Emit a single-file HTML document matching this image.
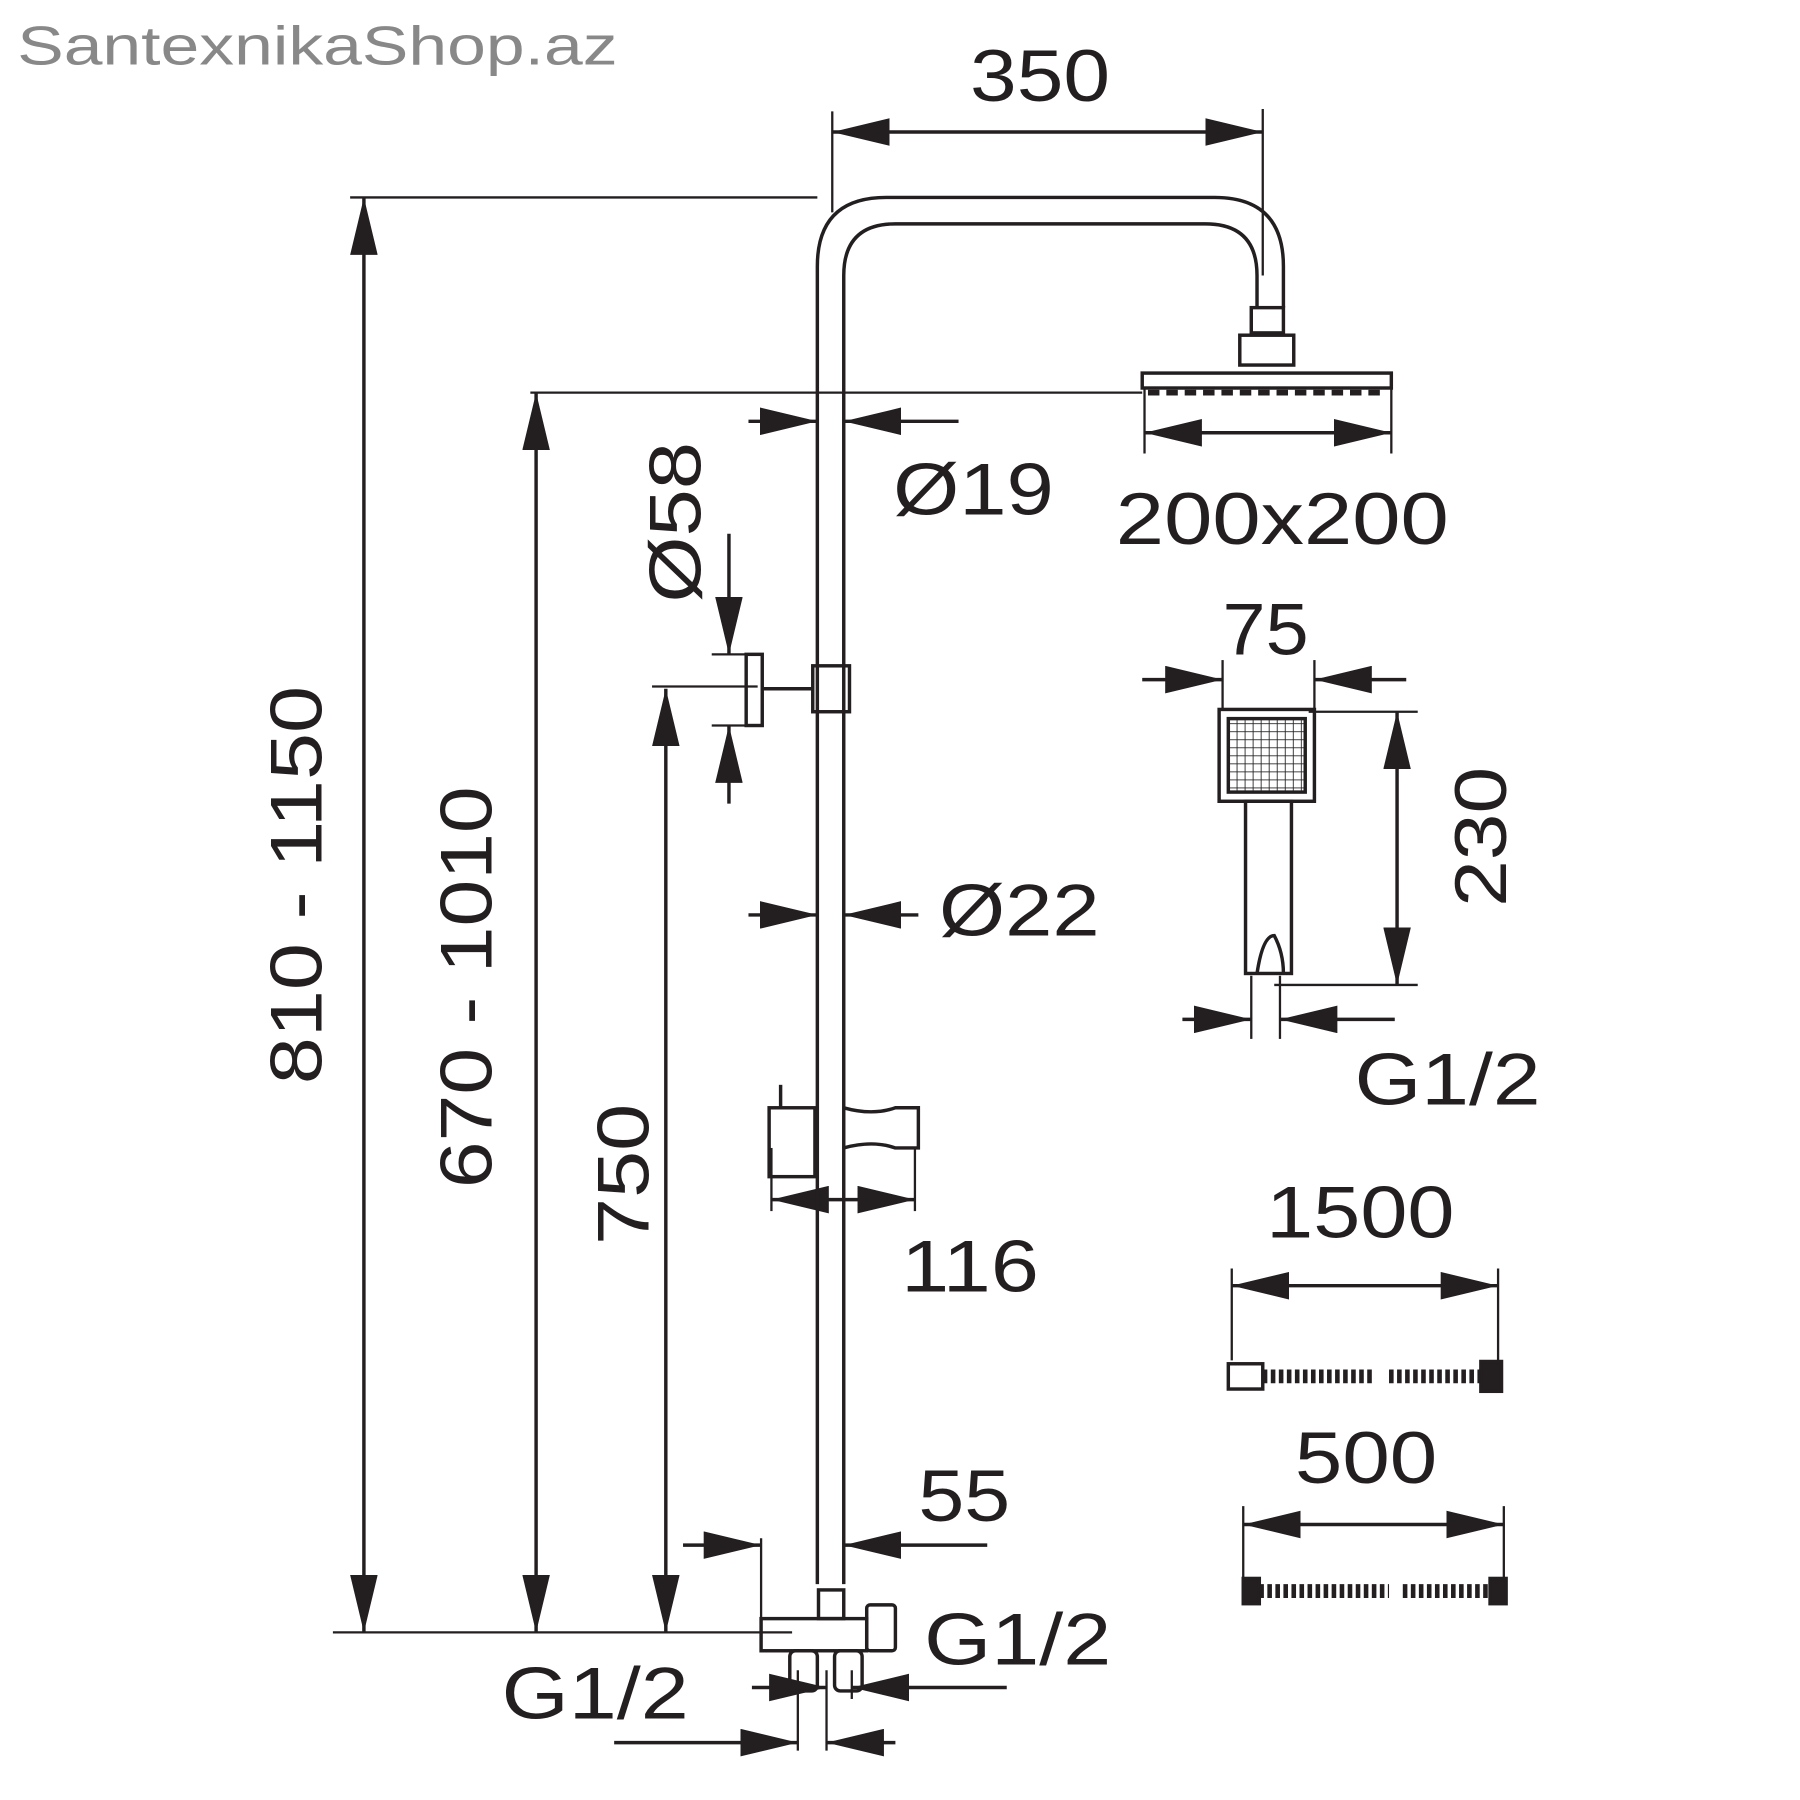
<!DOCTYPE html>
<html><head><meta charset="utf-8"><style>html,body{margin:0;padding:0;background:#fff}svg{display:block}</style></head>
<body>
<svg width="1800" height="1800" viewBox="0 0 1568 1568" xmlns="http://www.w3.org/2000/svg" font-family="Liberation Sans, sans-serif" fill="none" stroke="#231f20">
<defs>
<marker id="a" viewBox="0 0 50 24" refX="50" refY="12" markerWidth="50" markerHeight="24" markerUnits="userSpaceOnUse" orient="auto-start-reverse"><path d="M0 0L50 12L0 24Z" fill="#231f20" stroke="none"/></marker>
<pattern id="g" width="7" height="7" patternUnits="userSpaceOnUse"><path d="M0 0H7V7" stroke="#231f20" stroke-width="1.5"/></pattern>
</defs>
<text x="15" y="56" font-size="48" fill="#888" stroke="none" textLength="523" lengthAdjust="spacingAndGlyphs">SantexnikaShop.az</text>
<g fill="#231f20" stroke="none" font-size="64" lengthAdjust="spacingAndGlyphs">
<text x="845" y="88" textLength="122" lengthAdjust="spacingAndGlyphs">350</text>
<text x="972" y="474" textLength="290" lengthAdjust="spacingAndGlyphs">200x200</text>
<text x="778" y="448" textLength="140" lengthAdjust="spacingAndGlyphs">Ø19</text>
<text x="818" y="815" textLength="140" lengthAdjust="spacingAndGlyphs">Ø22</text>
<text x="785" y="1125" textLength="120" lengthAdjust="spacingAndGlyphs">116</text>
<text x="800" y="1325" textLength="80" lengthAdjust="spacingAndGlyphs">55</text>
<text x="805" y="1450" textLength="163" lengthAdjust="spacingAndGlyphs">G1/2</text>
<text x="437" y="1497" textLength="163" lengthAdjust="spacingAndGlyphs">G1/2</text>
<text x="1065" y="570" textLength="75" lengthAdjust="spacingAndGlyphs">75</text>
<text x="1180" y="962" textLength="162" lengthAdjust="spacingAndGlyphs">G1/2</text>
<text x="1103" y="1078" textLength="164" lengthAdjust="spacingAndGlyphs">1500</text>
<text x="1128" y="1292" textLength="124" lengthAdjust="spacingAndGlyphs">500</text>
<text transform="translate(280,771) rotate(-90)" text-anchor="middle" textLength="347" lengthAdjust="spacingAndGlyphs">810 - 1150</text>
<text transform="translate(428,860) rotate(-90)" text-anchor="middle" textLength="350" lengthAdjust="spacingAndGlyphs">670 - 1010</text>
<text transform="translate(565,1023) rotate(-90)" text-anchor="middle" textLength="123" lengthAdjust="spacingAndGlyphs">750</text>
<text transform="translate(610,455) rotate(-90)" text-anchor="middle" textLength="140" lengthAdjust="spacingAndGlyphs">Ø58</text>
<text transform="translate(1312,729) rotate(-90)" text-anchor="middle" textLength="122" lengthAdjust="spacingAndGlyphs">230</text>
</g>
<g stroke-width="2">
<line x1="725" y1="97" x2="725" y2="185"/><line x1="1100" y1="95" x2="1100" y2="240"/>
<line x1="305" y1="172" x2="712" y2="172"/><line x1="462" y1="342" x2="995" y2="342"/>
<line x1="290" y1="1422" x2="690" y2="1422"/>
<line x1="997" y1="338" x2="997" y2="395"/><line x1="1212" y1="338" x2="1212" y2="395"/>
<line x1="568" y1="598" x2="660" y2="598"/>
<line x1="620" y1="570" x2="660" y2="570"/><line x1="620" y1="632" x2="660" y2="632"/>
<line x1="672" y1="1000" x2="672" y2="1055"/><line x1="797" y1="1000" x2="797" y2="1055"/>
<line x1="663" y1="1340" x2="663" y2="1410"/>
<line x1="1065" y1="575" x2="1065" y2="618"/><line x1="1145" y1="575" x2="1145" y2="618"/>
<line x1="1140" y1="620" x2="1235" y2="620"/><line x1="1110" y1="858" x2="1235" y2="858"/>
<line x1="1090" y1="850" x2="1090" y2="905"/><line x1="1115" y1="850" x2="1115" y2="905"/>
<line x1="1073" y1="1105" x2="1073" y2="1185"/><line x1="1305" y1="1105" x2="1305" y2="1185"/>
<line x1="1083" y1="1312" x2="1083" y2="1375"/><line x1="1310" y1="1312" x2="1310" y2="1375"/>
<line x1="695" y1="1455" x2="695" y2="1525"/><line x1="720" y1="1455" x2="720" y2="1525"/><line x1="742" y1="1455" x2="742" y2="1480"/>
</g>
<g stroke-width="3">
<line x1="725" y1="115" x2="1100" y2="115" marker-start="url(#a)" marker-end="url(#a)"/>
<line x1="997" y1="377" x2="1212" y2="377" marker-start="url(#a)" marker-end="url(#a)"/>
<line x1="317" y1="172" x2="317" y2="1422" marker-start="url(#a)" marker-end="url(#a)"/>
<line x1="467" y1="342" x2="467" y2="1422" marker-start="url(#a)" marker-end="url(#a)"/>
<line x1="580" y1="600" x2="580" y2="1422" marker-start="url(#a)" marker-end="url(#a)"/>
<line x1="652" y1="367" x2="712" y2="367" marker-end="url(#a)"/><line x1="835" y1="367" x2="735" y2="367" marker-end="url(#a)"/>
<line x1="652" y1="797" x2="712" y2="797" marker-end="url(#a)"/><line x1="800" y1="797" x2="735" y2="797" marker-end="url(#a)"/>
<line x1="635" y1="465" x2="635" y2="570" marker-end="url(#a)"/><line x1="635" y1="700" x2="635" y2="632" marker-end="url(#a)"/>
<line x1="672" y1="1045" x2="797" y2="1045" marker-start="url(#a)" marker-end="url(#a)"/>
<line x1="595" y1="1346" x2="663" y2="1346" marker-end="url(#a)"/><line x1="860" y1="1346" x2="735" y2="1346" marker-end="url(#a)"/>
<line x1="655" y1="1470" x2="720" y2="1470" marker-end="url(#a)"/><line x1="877" y1="1470" x2="742" y2="1470" marker-end="url(#a)"/>
<line x1="535" y1="1518" x2="695" y2="1518" marker-end="url(#a)"/><line x1="780" y1="1518" x2="720" y2="1518" marker-end="url(#a)"/>
<line x1="995" y1="592" x2="1065" y2="592" marker-end="url(#a)"/><line x1="1225" y1="592" x2="1145" y2="592" marker-end="url(#a)"/>
<line x1="1217" y1="620" x2="1217" y2="858" marker-start="url(#a)" marker-end="url(#a)"/>
<line x1="1030" y1="888" x2="1090" y2="888" marker-end="url(#a)"/><line x1="1215" y1="888" x2="1115" y2="888" marker-end="url(#a)"/>
<line x1="1073" y1="1120" x2="1305" y2="1120" marker-start="url(#a)" marker-end="url(#a)"/>
<line x1="1083" y1="1328" x2="1310" y2="1328" marker-start="url(#a)" marker-end="url(#a)"/>
<path d="M712 1380V232Q712 172 772 172H1058Q1118 172 1118 232V268"/>
<path d="M735 1380V240Q735 195 780 195H1050Q1095 195 1095 240V268"/>
<rect x="1090" y="268" width="28" height="22"/><rect x="1080" y="292" width="47" height="26"/>
<rect x="995" y="325" width="217" height="13"/>
<path d="M1000 342H1205" stroke-dasharray="10 6" stroke-width="5"/>
<rect x="650" y="570" width="14" height="62"/><line x1="664" y1="600" x2="708" y2="600"/>
<rect x="708" y="580" width="32" height="40"/>
<rect x="670" y="965" width="40" height="60"/><line x1="680" y1="945" x2="680" y2="965"/>
<path d="M735 965Q760 972 780 965H800V1000H780Q760 993 735 1000M710 965V1025"/>
<rect x="663" y="1410" width="92" height="28"/><rect x="755" y="1398" width="25" height="40" rx="3"/>
<rect x="713" y="1385" width="22" height="25"/>
<rect x="688" y="1438" width="24" height="35" rx="5"/><rect x="727" y="1438" width="24" height="35" rx="5"/>
<rect x="1062" y="618" width="83" height="80"/>
<rect x="1070" y="626" width="67" height="64" fill="url(#g)"/>
<rect x="1085" y="698" width="40" height="150"/>
<path d="M1095 848Q1100 815 1110 815Q1118 830 1118 848" />
<rect x="1070" y="1188" width="30" height="22"/><rect x="1290" y="1186" width="18" height="26" fill="#231f20"/>
<path d="M1100 1199H1195M1210 1199H1290" stroke-width="12" stroke-dasharray="4 3"/>
<rect x="1083" y="1375" width="14" height="22" fill="#231f20"/><rect x="1298" y="1375" width="14" height="22" fill="#231f20"/>
<path d="M1097 1386H1210M1222 1386H1298" stroke-width="12" stroke-dasharray="4 3"/>
</g>
</svg>
</body></html>
